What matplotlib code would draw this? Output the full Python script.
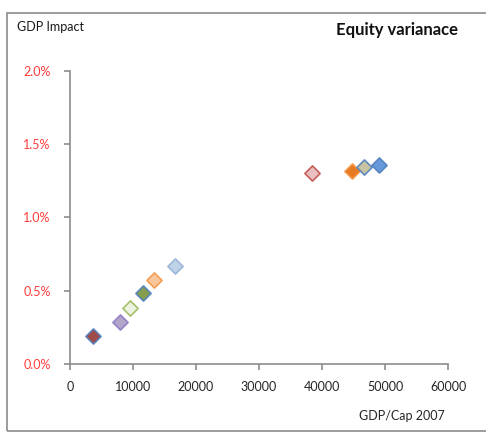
import matplotlib
matplotlib.use("Agg")
import matplotlib.pyplot as plt
from matplotlib.patches import Rectangle
from matplotlib.ticker import FuncFormatter

plt.rcParams['font.family'] = ['Lato', 'DejaVu Sans']

# GDP per capita 2007 vs GDP impact (fraction)
gdp_per_cap = [3650, 8000, 9590, 11590, 13330, 16620, 38370, 44770, 46620, 49000]
gdp_impact = [0.0019, 0.00289, 0.00384, 0.00486, 0.00573, 0.00669,
              0.0130, 0.01318, 0.01346, 0.01357]
fill_colors = ['#953735', '#A99BC5', '#EBF1DE', '#77933C', '#FAC090',
               '#B9CDE5', '#E6B9B8', '#E46C0A', '#C4BD97', '#558ED5']
edge_colors = ['#4F81BD', '#8E7CC3', '#9BBB59', '#4F81BD', '#F79646',
               '#95B3D7', '#C0504D', '#F79646', '#4F81BD', '#4F81BD']

x_ticks = [0, 10000, 20000, 30000, 40000, 50000, 60000]
y_ticks = [0.0, 0.005, 0.010, 0.015, 0.020]

fig = plt.figure(figsize=(4.86, 4.33), dpi=100)

# outer chart frame
fig.patches.append(Rectangle((7 / 486, 2 / 433), 1.2, 418 / 433,
                             transform=fig.transFigure, fill=False,
                             edgecolor='#8C8C8C', linewidth=1.2))

ax = fig.add_axes([70 / 486, 69 / 433, 378 / 486, 293.3 / 433])
for c_x, c_y, fc, ec in zip(gdp_per_cap, gdp_impact, fill_colors, edge_colors):
    ax.scatter([c_x], [c_y], marker='D', s=60, facecolor=fc, edgecolor=ec,
               linewidth=1.2, zorder=3, alpha=0.9)

ax.set_xlim(0, 60000)
ax.set_ylim(0, 0.020)
ax.set_xticks(x_ticks)
ax.set_yticks(y_ticks)
ax.yaxis.set_major_formatter(FuncFormatter(lambda v, p: f"{v * 100:.1f}%"))
ax.xaxis.set_major_formatter(FuncFormatter(lambda v, p: f"{int(v)}"))

for side in ['top', 'right']:
    ax.spines[side].set_visible(False)
for side in ['left', 'bottom']:
    ax.spines[side].set_color('#8C8C8C')
    ax.spines[side].set_linewidth(1.2)

ax.tick_params(axis='both', direction='out', length=4, width=1.2,
               color='#8C8C8C', labelsize=9)
ax.tick_params(axis='y', labelcolor='#FF3B3B', pad=10)
ax.tick_params(axis='x', labelcolor='#262626', pad=8)

fig.text(17 / 486, 1 - 27 / 433, "GDP Impact", fontsize=9, color='#1a1a1a',
         va='center', ha='left')
fig.text(458 / 486, 1 - 30 / 433, "Equity varianace", fontsize=12,
         fontweight='bold', color='#111111', va='center', ha='right')
fig.text(445 / 486, 1 - 416 / 433, "GDP/Cap 2007", fontsize=9,
         color='#262626', va='center', ha='right')

fig.savefig("out.png", dpi=100)
